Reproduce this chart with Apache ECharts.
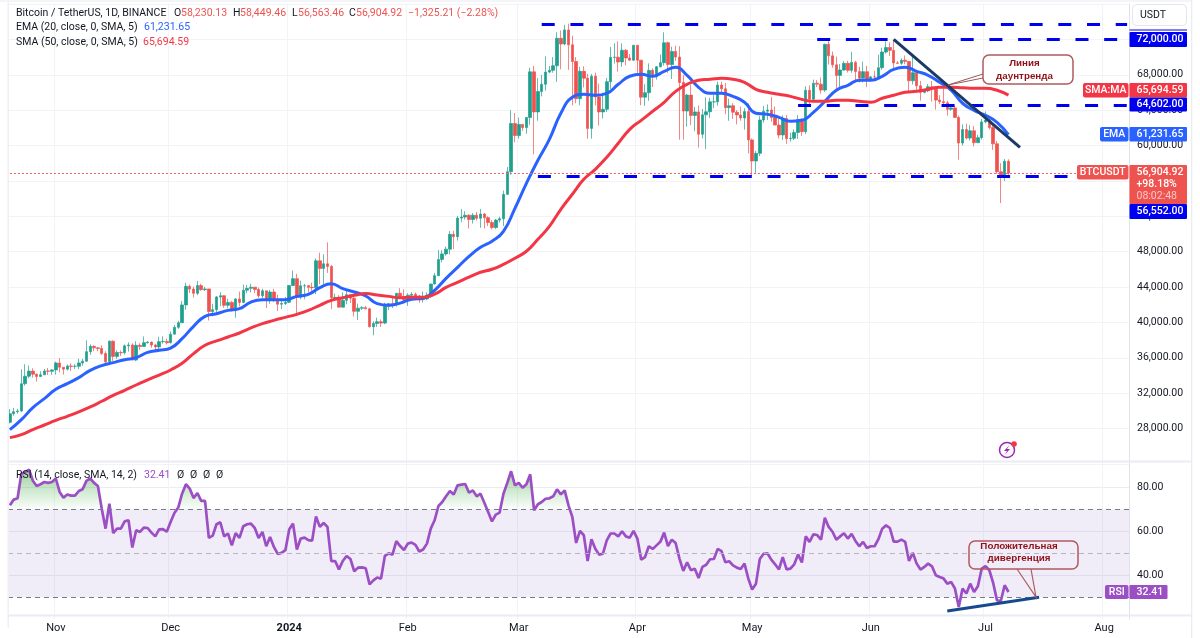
<!DOCTYPE html>
<html>
<head>
<meta charset="utf-8">
<style>html,body{margin:0;padding:0;background:#fff}#c{width:1200px;height:638px}</style>
<script src="https://cdn.jsdelivr.net/npm/echarts@6/dist/echarts.min.js"></script>
</head>
<body>
<div id="c"></div>
<script>
const firstDay = '2023-10-20';
const dayCount = 293;
const tickLabels = {'2023-11-01':'Nov','2023-12-01':'Dec','2024-01-01':'2024','2024-02-01':'Feb','2024-03-01':'Mar','2024-04-01':'Apr','2024-05-01':'May','2024-06-01':'Jun','2024-07-01':'Jul','2024-08-01':'Aug'};

const opens = [28710,29680,29910,29990,33070,33920,34500,34150,33890,34080,34520,34480,
34640,35420,34940,34720,35080,35040,35050,35420,35620,36700,37300,37130,37060,36490,35550,37880,36160,36600,36570,37360,37460,35750,37420,37290,37720,37780,37450,37240,37830,37850,
37710,38680,39450,39970,41980,44080,43770,43290,44170,43710,43790,41240,41450,42880,43020,41940,42270,41360,42660,42270,43650,43860,43990,43720,43010,43580,42510,43440,42580,42070,42140,
42280,44180,44950,42850,44150,44160,43970,43930,46970,46110,46630,46340,42780,42840,41730,42510,43140,42740,41260,41620,41670,41540,39520,39890,40080,39930,41820,42120,42030,43300,42940,
42580,43080,43190,42990,42580,42660,43090,44340,45290,47130,47750,48290,49960,49700,51800,51910,52120,51640,52120,51780,52260,51850,51300,50730,51570,51730,54480,57040,62500,
61130,62390,62030,63170,68330,63800,66100,66930,68300,68500,69020,72120,71480,73070,71390,69500,65300,68390,67610,61940,67840,65500,63800,64100,67220,69960,69990,69450,70780,69900,69650,
71330,69650,65470,65970,68500,67840,68900,69360,71620,69150,70640,70000,67130,63900,65700,63400,63800,61280,63470,63820,64940,64940,66840,66410,64280,64500,63770,63460,63120,63840,
60640,58250,59120,62890,63890,64010,63160,62310,61190,63070,60790,60820,61480,62940,61570,66240,65230,67050,66940,66270,71450,70140,69120,67930,68540,69290,68500,69400,68370,67620,68350,
67530,67760,67750,68800,70570,71080,70760,69340,69300,69650,69510,67320,68240,66750,66010,66190,66640,66490,65140,64960,64830,64100,64250,63180,60280,61800,60840,61670,60320,60890,
62670,62880,62030,60200,57040,56640,58230.13];
const highs = [30200,30350,30230,34700,35280,35130,34820,34240,34480,34740,34860,34720,
35580,35980,34940,35260,35380,35290,35900,35880,37970,37520,37400,37230,37420,36750,37980,37970,36850,36840,37500,37750,37650,37880,37650,38420,37890,37830,37580,38380,38440,38170,
38990,39720,40190,42420,44490,44300,44050,44700,44370,44040,43800,42100,43000,43420,43090,42690,42420,42760,43490,44280,44240,44370,44020,43950,43800,43590,43680,43800,43130,42610,42890,
44180,45880,45500,44730,44350,44220,44500,47250,47890,47700,49050,46500,43260,43080,43400,43570,43200,42930,42130,41830,41870,41670,40130,40550,40350,42220,42200,42840,43310,43880,43740,
43300,43420,43380,43120,43500,43400,44370,45600,48200,48170,48590,50330,50370,52040,52820,52570,52250,52370,52490,52830,52370,52000,51550,51700,51950,54910,57580,64000,63680,
63160,62420,63230,68800,69000,67640,67980,70080,69000,70000,72800,73000,73650,73780,72420,70000,68900,68960,68120,68100,68240,67000,65970,67620,71150,71560,71770,71550,70900,70350,71370,
71350,69680,66910,69290,68720,69000,70290,72800,71750,71170,71280,71230,67950,65840,66870,64370,64520,64130,65450,65390,65700,67230,67210,67080,65300,64800,64000,64400,64230,64750,
60800,59400,63320,64500,64650,65500,64400,63000,63400,63450,61450,61820,63450,63100,66700,66800,67450,67400,67700,71500,71980,70630,70050,69200,69550,69580,70600,69570,68920,69500,69000,
67860,68450,70270,71060,71760,71650,71950,69550,69850,70180,69550,70000,68450,67300,66400,66950,67300,66560,65700,66450,65060,64520,64480,63370,62400,62480,62300,62200,61200,63000,
63860,63290,62300,60500,58000,58480,58449.46];
const lows = [28590,29470,29690,29880,32860,33690,33760,33320,33850,34050,34050,34080,
34100,34350,34100,34580,34520,34750,34720,35110,35540,36340,36750,36760,36340,35100,35360,35650,35880,36210,36370,36700,35730,35630,36870,37250,37600,37150,36750,36880,37600,37500,
37620,38650,39280,39970,41420,43330,42820,43080,43580,43560,40220,40680,40970,41830,41660,41620,41250,40530,41800,42180,43300,43400,43300,42800,42760,41640,42100,42300,41300,41520,41970,
42180,44150,40750,42630,42620,43400,43570,43200,44300,44300,45600,41500,42440,41720,41720,42050,42200,40680,40280,41420,41500,39430,38550,39480,39500,39820,41390,41620,41800,42680,42270,
41880,42580,42880,42220,42260,42500,42790,44320,45240,46800,47550,47700,48300,49260,51320,51630,50620,51180,51530,50700,50630,50900,50520,50580,51280,50900,54450,56700,60360,
60770,61660,61320,62340,59000,62800,65550,66200,68180,68230,67200,68620,71330,68550,64530,64780,64550,66570,60770,60780,64530,62260,63060,63800,66400,69280,68360,68900,69070,69580,69560,
68150,64550,64490,65060,66620,67450,68850,69040,68210,67520,69570,60660,60660,62130,62300,61610,59770,60800,59600,63100,64230,64520,65800,63560,62800,63000,62400,62800,61800,59100,
56550,56900,58800,62600,62900,62700,62300,60800,60650,60200,60450,60630,60750,61100,61300,64600,65100,66600,65860,66050,69150,68800,66300,66600,68450,68250,68230,67150,67120,67130,66600,
67400,67300,67620,68560,70380,70120,68500,69200,69130,69200,66060,66900,66300,65080,65900,66030,64980,64060,64690,64550,63380,63930,63200,58400,60000,60700,60570,59900,60300,60680,
62500,61800,59500,56800,53500,56000,56563.46];
const closes = [29680,29910,29990,33070,33920,34500,34150,33890,34080,34520,34480,34640,
35420,34940,34720,35080,35040,35050,35420,35620,36700,37300,37130,37060,36490,35550,37880,36160,36600,36570,37360,37460,35750,37420,37290,37720,37780,37450,37240,37830,37850,37710,
38680,39450,39970,41980,44080,43770,43290,44170,43710,43790,41240,41450,42880,43020,41940,42270,41360,42660,42270,43650,43860,43990,43720,43010,43580,42510,43440,42580,42070,42140,42280,
44180,44950,42850,44150,44160,43970,43930,46970,46110,46630,46340,42780,42840,41730,42510,43140,42740,41260,41620,41670,41540,39520,39890,40080,39930,41820,42120,42030,43300,42940,42580,
43080,43190,42990,42580,42660,43090,44340,45290,47130,47750,48290,49960,49700,51800,51910,52120,51640,52120,51780,52260,51850,51300,50730,51570,51730,54480,57040,62500,61130,
62390,62030,63170,68330,63800,66100,66930,68300,68500,69020,72120,71480,73070,71390,69500,65300,68390,67610,61940,67840,65500,63800,64100,67220,69960,69990,69450,70780,69900,69650,71330,
69650,65470,65970,68500,67840,68900,69360,71620,69150,70640,70000,67130,63900,65700,63400,63800,61280,63470,63820,64940,64940,66840,66410,64280,64500,63770,63460,63120,63840,60640,
58250,59120,62890,63890,64010,63160,62310,61190,63070,60790,60820,61480,62940,61570,66240,65230,67050,66940,66270,71450,70140,69120,67930,68540,69290,68500,69400,68370,67620,68350,67530,
67760,67750,68800,70570,71080,70760,69340,69300,69650,69510,67320,68240,66750,66010,66190,66640,66490,65140,64960,64830,64100,64250,63180,60280,61800,60840,61670,60320,60890,62670,
62880,62030,60200,57040,56640,58230,56904.92];

// EMA and SMA every third day
const emaStep = 3;
const emaValues = [27880,29010,30370,31390,32440,33080,33760,34590,35120,35460,
35790,36020,36620,36850,37110,38170,39560,40690,40990,41370,
41560,42310,42580,42580,42580,42950,43180,43930,44390,43820,
43440,42990,42130,41940,42190,42620,42730,43630,44990,46230,
47470,48490,49170,50300,52900,55730,58330,60700,63640,65450,
65790,65680,65900,66920,67830,68050,67830,68390,68840,67940,
66580,65900,65900,65560,64890,63640,63530,63190,62740,62850,
63750,65000,66250,66810,67380,67380,67830,68620,68840,68390,
67940,67150,66250,64780,63980,63420,62630,61231.65];
const smaValues = [26980,27320,27880,28410,28940,29390,29880,30450,31090,31760,
32330,32930,33500,34060,34630,35380,36480,37420,37910,38360,
38810,39380,39870,40240,40580,40920,41370,41940,42500,42800,
43070,43260,43110,42950,42790,42840,42840,43190,43970,44540,
45120,45680,46020,46570,47260,48050,49400,50870,52790,54490,
56180,57310,58670,60250,61830,62850,63870,64890,66130,66920,
67380,67490,67600,67490,67150,66360,66020,65790,65560,65220,
65000,65000,65110,65110,65000,64890,65340,65680,66020,66130,
66360,66580,66580,66520,66470,66470,66250,65694.59];

const rsiValues = [71.8,74.4,75,86.2,87,88,83,80.6,81.4,82.4,82,82.4,84,77.9,75.3,76.7,76.2,76.2,78.3,79.1,82.9,84,82,80.6,70.3,61.2,72.6,59.2,61.2,61.2,64.5,65,52.6,60.5,59.7,61.7,61.5,59.4,57.7,60.9,61,59.8,64.2,68.3,70.8,77.1,81.4,79.4,75.1,77.4,73.8,73.8,57,58,63.2,64.1,57.7,59,53.6,59.2,57,62.3,63.2,63.5,61.5,57,59.7,53.2,57.4,52.9,49.7,50.2,51.4,60.8,63.5,51.7,56.7,57.1,56,55.8,66.8,62,63.8,62,46.4,46.5,42.7,46.5,48.8,47.4,41.8,43.5,43.6,43.2,35.9,37.7,39,38.5,48.8,50,49.4,55.5,53.3,51.5,54.4,54.9,53.8,50.8,51.7,54.4,61.2,65,71.5,73.3,75.9,78.3,76.7,80.9,81.2,81.5,77.6,78.6,75.9,77.1,73,68.8,64.5,67.6,68.5,77.1,82,87.3,80.9,82,79.8,81.4,85.9,69.5,72.3,73.3,74.8,75,75.9,79.1,76.8,78.6,71.8,66.5,54.7,60.2,58.2,46.5,56.4,52.1,49.4,49.8,55.9,59,59,57.7,60,57.7,57.1,60.2,56.7,47.1,48.3,53.2,52,53.6,55.2,59.4,53.3,56.2,54.7,47.6,42,45.9,42.3,43,38.8,43.8,44.8,47.3,47.4,52,51,45.9,46.4,44.5,43.5,42.9,45.3,38.5,33.5,36.2,47.4,49.8,50,47.1,45,42.7,48.3,42.7,43,45,49.5,45.8,57.7,55.2,58.6,58.3,56.2,66.2,62,59.8,56.2,57.7,59.1,56.7,58.8,55.6,53.2,55.2,52.4,53.2,53.2,56.4,61.2,62.7,61.5,55.3,55.3,56.2,55.2,46.5,50.2,45.3,42.6,43.8,45.3,44.1,40,39.2,38.6,36.2,37,34,25.6,34,31.7,36.2,32.4,35,43,44.2,42.3,36.5,28.6,28.3,35.5,32.41];

const lastClose = 56904.92;
const levelPrices = [73735,72000,64602,56552];
const levelStarts = ['2024-03-07','2024-05-18','2024-05-13','2024-03-06'];
const levelEnds = ['2024-08-07','2024-08-07','2024-08-07','2024-07-23'];
const downtrendDates = ['2024-06-07','2024-07-10'];
const downtrendPrices = [72000,59800];
const rsiTrendDates = ['2024-06-21','2024-07-15'];
const rsiTrendValues = [23.8,30];
const rsiLevels = [70,50,30];
const rsiLabels = [40,60,80];

const days = [];
for (let i = 0; i < dayCount; i++) {
  days.push(new Date(Date.parse(firstDay + 'T00:00:00Z') + i * 864e5).toISOString().slice(0, 10));
}
const candles = opens.map((o, i) => [o, closes[i], lows[i], highs[i]]);
const emaLine = emaValues.map((v, k) => [k * emaStep, v]);
const smaLine = smaValues.map((v, k) => [k * emaStep, v]);

const FONT = 'Roboto, "Liberation Sans", sans-serif';
const GRID = '#f1f3f6', EDGE = '#e9ecf3', INK = '#131722';
const UP = '#1fa08f', DOWN = '#ef5350', BLUE = '#2962ff', SMA = '#f23645', PURPLE = '#9c4fc4', LEVEL = '#0000f0';

const xBase = {
  type: 'category', data: days, boundaryGap: true,
  axisTick: { show: false },
  axisLine: { show: false },
  splitLine: { show: true, interval: (i) => tickLabels[days[i]] !== undefined, lineStyle: { color: GRID, width: 1 } }
};
const priceFmt = v => v.toLocaleString('en-US', { minimumFractionDigits: 2, maximumFractionDigits: 2 });

const option = {
  animation: false,
  backgroundColor: '#ffffff',
  textStyle: { fontFamily: FONT },
  grid: [
    { left: 8, right: 71, top: 4, height: 460 },
    { left: 8, right: 71, top: 462, height: 157.3 }
  ],
  xAxis: [
    Object.assign({}, xBase, { gridIndex: 0, axisLabel: { show: false } }),
    Object.assign({}, xBase, {
      gridIndex: 1,
      axisLabel: {
        show: true, interval: (i) => tickLabels[days[i]] !== undefined, margin: 3, color: INK, fontSize: 11, fontFamily: FONT,
        hideOverlap: false,
        formatter: (v) => { const t = tickLabels[v]; return t === '2024' ? '{b|2024}' : (t || ''); },
        rich: { b: { fontWeight: 'bold', fontSize: 11, color: INK, fontFamily: FONT } }
      }
    })
  ],
  yAxis: [
    {
      type: 'value', gridIndex: 0, position: 'right', min: 24000, max: 76000, interval: 4000,
      axisLine: { show: true, lineStyle: { color: '#dfe2ea' } }, axisTick: { show: false },
      splitLine: { show: true, lineStyle: { color: GRID } },
      axisLabel: { color: INK, fontSize: 10.5, margin: 8, fontFamily: FONT, showMinLabel: false, showMaxLabel: false, formatter: priceFmt }
    },
    {
      type: 'value', gridIndex: 1, position: 'right', min: 20, max: 91.5, interval: 20,
      axisLine: { show: true, lineStyle: { color: '#dfe2ea' } }, axisTick: { show: false },
      splitLine: { show: true, showMinLine: false, showMaxLine: false, lineStyle: { color: '#ebebf2' } },
      axisLabel: { color: INK, fontSize: 10.5, margin: 8, fontFamily: FONT, formatter: (v) => rsiLabels.includes(v) ? v.toFixed(2) : '' }
    }
  ],
  series: [
    {
      name: 'BTCUSDT', type: 'candlestick', xAxisIndex: 0, yAxisIndex: 0, data: candles, barWidth: 3,
      itemStyle: { color: UP, color0: DOWN, borderColor: 'rgba(31,160,143,0.7)', borderColor0: 'rgba(239,83,80,0.7)', borderWidth: 1 },
      markLine: {
        silent: true, symbol: 'none', animation: false, label: { show: false },
        data: [
          [{ coord: [days[0], lastClose], lineStyle: { color: '#f0605d', type: [2, 2], width: 1 } }, { coord: [days[dayCount - 1], lastClose] }]
        ].concat(levelPrices.map((p, i) => [
          { coord: [levelStarts[i], p], lineStyle: { color: LEVEL, type: [13, 15.7], width: 3 } },
          { coord: [levelEnds[i], p] }
        ]))
      }
    },
    { name: 'EMA', type: 'line', xAxisIndex: 0, yAxisIndex: 0, data: emaLine, showSymbol: false, smooth: 0.5, z: 4, lineStyle: { color: BLUE, width: 3 } },
    { name: 'SMA', type: 'line', xAxisIndex: 0, yAxisIndex: 0, data: smaLine, showSymbol: false, smooth: 0.5, z: 4, lineStyle: { color: SMA, width: 3 } },
    { name: 'Downtrend', type: 'line', xAxisIndex: 0, yAxisIndex: 0, data: downtrendDates.map((d, i) => [d, downtrendPrices[i]]), showSymbol: false, z: 5, lineStyle: { color: '#1b3a66', width: 3 } },
    {
      name: 'RSI overbought', type: 'line', xAxisIndex: 1, yAxisIndex: 1, data: rsiValues.map(v => Math.max(v, 70)), showSymbol: false, z: 2,
      lineStyle: { width: 0, opacity: 0 },
      areaStyle: { origin: 70, opacity: 1, color: { type: 'linear', x: 0, y: 0, x2: 0, y2: 1, colorStops: [{ offset: 0, color: 'rgba(76,175,80,0.55)' }, { offset: 1, color: 'rgba(76,175,80,0.02)' }] } }
    },
    {
      name: 'RSI', type: 'line', xAxisIndex: 1, yAxisIndex: 1, data: rsiValues, showSymbol: false, z: 4,
      lineStyle: { color: PURPLE, width: 2.7 },
      markArea: { silent: true, itemStyle: { color: 'rgba(126,87,194,0.11)' }, data: [[{ yAxis: 70 }, { yAxis: 30 }]] },
      markLine: {
        silent: true, symbol: 'none', label: { show: false },
        data: rsiLevels.map((v, i) => ({ yAxis: v, lineStyle: { color: i === 1 ? '#b5b5be' : '#787b86', type: [5, 4], width: 1 } }))
      }
    },
    { name: 'RSI trend', type: 'line', xAxisIndex: 1, yAxisIndex: 1, data: rsiTrendDates.map((d, i) => [d, rsiTrendValues[i]]), showSymbol: false, z: 5, lineStyle: { color: '#174a8c', width: 3 } }
  ]
};

const chart = echarts.init(document.getElementById('c'), null, { renderer: 'canvas' });
chart.setOption(option);

// --- overlay: frame, legends, price tags, callouts, icon
const g = [];
const rect = (x, y, w, h, fill, r, z) => g.push({ type: 'rect', z: z || 50, silent: true, shape: { x, y, width: w, height: h, r: r || 0 }, style: { fill } });
const text = (x, y, t, fill, o) => g.push({ type: 'text', z: 60, silent: true, style: Object.assign({ x, y, text: t, fill, font: '10.5px ' + FONT, textAlign: 'left', textVerticalAlign: 'middle' }, o || {}) });

rect(0, 0, 1192, 2, '#f4f5f9');
rect(7.5, 2, 1.5, 626, '#eef0f6');
rect(8, 460.5, 1184, 2, EDGE);
rect(8, 614.5, 1184, 2, EDGE);
rect(1191, 0, 1.5, 638, EDGE);
rect(1192.5, 0, 8, 638, '#ffffff');

text(16, 13, 'Bitcoin / TetherUS, 1D, BINANCE', INK);
text(174, 13, 'O', INK); text(181, 13, '58,230.13', DOWN);
text(233, 13, 'H', INK); text(240, 13, '58,449.46', DOWN);
text(292, 13, 'L', INK); text(298, 13, '56,563.46', DOWN);
text(349, 13, 'C', INK); text(356, 13, '56,904.92', DOWN);
text(408, 13, '\u22121,325.21 (\u22122.28%)', DOWN);
text(16, 27.5, 'EMA (20, close, 0, SMA, 5)', INK); text(144, 27.5, '61,231.65', BLUE);
text(16, 42, 'SMA (50, close, 0, SMA, 5)', INK); text(143, 42, '65,694.59', SMA);
text(16, 475, 'RSI (14, close, SMA, 14, 2)', INK); text(144, 475, '32.41', PURPLE);
[177, 190, 203, 216].forEach(x => text(x, 475, '\u00d8', INK));

g.push({ type: 'rect', z: 50, silent: true, shape: { x: 1132.5, y: 4.5, width: 54, height: 21, r: 4 }, style: { fill: '#fff', stroke: '#e3e6ec', lineWidth: 1 } });
text(1140, 15.5, 'USDT', INK);

const tagFont = '500 10.5px ' + FONT;
const tag = (y, h, fill, t, tx) => { rect(1129.5, y, 57.5, h, fill, 1); text(1136.5, y + h / 2, t, tx || '#fff', { font: tagFont }); };
const side = (x, y, h, fill, t) => { rect(x, y, 1128.5 - x, h, fill, 2); text((x + 1128.5) / 2, y + h / 2, t, '#fff', { textAlign: 'center', font: tagFont }); };
rect(1129.5, 29.5, 57.5, 1, LEVEL);
tag(32, 15, LEVEL, '72,000.00');
side(1083, 83, 14.5, SMA, 'SMA:MA');
tag(83, 14.5, SMA, '65,694.59');
tag(97.5, 14, LEVEL, '64,602.00');
side(1100, 127, 14.5, BLUE, 'EMA');
tag(127, 14.5, BLUE, '61,231.65');
side(1077, 165, 14.5, DOWN, 'BTCUSDT');
rect(1129.5, 165, 57.5, 39, DOWN, 1);
text(1136.5, 172.5, '56,904.92', '#fff', { font: tagFont });
text(1136.5, 184.5, '+98.18%', '#fff', { font: tagFont });
text(1136.5, 196.5, '08:02:48', '#fbc8c6');
tag(204, 15, LEVEL, '56,552.00');
side(1105, 585, 14, PURPLE, 'RSI');
rect(1129.5, 585, 38, 14, PURPLE, 1);
text(1136.5, 592, '32.41', '#fff', { font: tagFont });

const callStroke = '#b05a5e', callText = '#8e1018';
const callFont = 'bold 9.8px "Liberation Sans", Arial, sans-serif';
g.push({ type: 'polyline', z: 55, silent: true, shape: { points: [[983, 74], [948, 85], [983, 78]] }, style: { fill: 'none', stroke: '#9c5a5a', lineWidth: 1 } });
g.push({ type: 'rect', z: 56, silent: true, shape: { x: 983, y: 55, width: 90, height: 29, r: 6 }, style: { fill: '#fff', stroke: callStroke, lineWidth: 1.5 } });
text(1024.5, 63.5, '\u041b\u0438\u043d\u0438\u044f', callText, { textAlign: 'center', font: callFont });
text(1024.5, 76, '\u0434\u0430\u0443\u043d\u0442\u0440\u0435\u043d\u0434\u0430', callText, { textAlign: 'center', font: callFont });

g.push({ type: 'polyline', z: 55, silent: true, shape: { points: [[1017, 569], [1036, 597], [1031, 569]] }, style: { fill: 'none', stroke: callStroke, lineWidth: 1.2 } });
g.push({ type: 'rect', z: 55, silent: true, shape: { x: 969, y: 541, width: 109, height: 28, r: 6 }, style: { fill: 'none', stroke: callStroke, lineWidth: 1.5 } });
text(1019, 546, '\u041f\u043e\u043b\u043e\u0436\u0438\u0442\u0435\u043b\u044c\u043d\u0430\u044f', callText, { textAlign: 'center', font: callFont });
text(1019, 558, '\u0434\u0438\u0432\u0435\u0440\u0433\u0435\u043d\u0446\u0438\u044f', callText, { textAlign: 'center', font: callFont });

g.push({ type: 'circle', z: 55, silent: true, shape: { cx: 1007, cy: 450, r: 7.5 }, style: { fill: '#fff', stroke: '#9c27b0', lineWidth: 1.5 } });
g.push({ type: 'polygon', z: 56, silent: true, shape: { points: [[1009.5, 445], [1004, 451], [1007, 451], [1004.5, 455], [1010, 449], [1007, 449]] }, style: { fill: '#9c27b0' } });
g.push({ type: 'circle', z: 57, silent: true, shape: { cx: 1014, cy: 444, r: 2.8 }, style: { fill: '#f23645' } });

chart.setOption({ graphic: g });
</script>
</body>
</html>
